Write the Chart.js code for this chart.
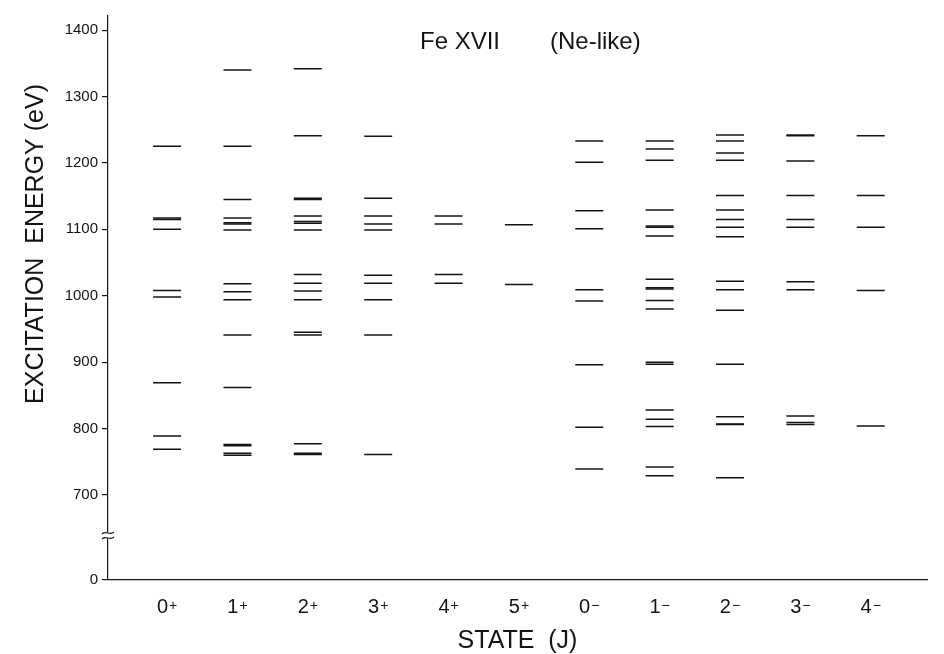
<!DOCTYPE html>
<html>
<head>
<meta charset="utf-8">
<script src="https://cdn.jsdelivr.net/npm/chart.js@4/dist/chart.umd.min.js"></script>
<style>
  html, body { margin: 0; padding: 0; background: #fff; }
  #wrap { width: 944px; height: 654px; }
</style>
</head>
<body>
<div id="wrap"><canvas id="levels"></canvas></div>
<script>
// J value and parity of each column
const states = ['0', '1', '2', '3', '4', '5', '0', '1', '2', '3', '4'];
const parity = ['+', '+', '+', '+', '+', '+', '\u2212', '\u2212', '\u2212', '\u2212', '\u2212'];

// level energies (eV), one list per column
const levels0p = [1225, 1117, 1115, 1100, 1008, 998, 869, 789, 769];
const levels1p = [1340, 1225, 1145, 1117, 1110, 1108, 1099, 1018, 1006, 994, 941, 862, 776, 774, 763, 760];
const levels2p = [1342, 1241, 1147, 1145, 1120, 1112, 1109, 1099, 1032, 1019, 1007, 994, 945, 941, 777, 763, 761];
const levels3p = [1240, 1147, 1120, 1108, 1099, 1031, 1019, 994, 941, 761];
const levels4p = [1120, 1108, 1032, 1019];
const levels5p = [1107, 1017];
const levels0m = [1233, 1201, 1128, 1101, 1009, 992, 896, 802, 739];
const levels1m = [1233, 1221, 1204, 1129, 1105, 1103, 1090, 1025, 1012, 1010, 993, 980, 900, 897, 828, 814, 803, 742, 729];
const levels2m = [1242, 1233, 1215, 1204, 1151, 1129, 1115, 1103, 1089, 1022, 1009, 978, 897, 818, 807, 806, 726];
const levels3m = [1242, 1241, 1203, 1151, 1115, 1103, 1021, 1009, 819, 809, 806];
const levels4m = [1241, 1151, 1103, 1008, 804];

const allLevels = [levels0p, levels1p, levels2p, levels3p, levels4p, levels5p,
                   levels0m, levels1m, levels2m, levels3m, levels4m];

// y ticks; 0 sits below the axis break
const yTickValues = [0, 700, 800, 900, 1000, 1100, 1200, 1300, 1400];
const zeroAt = 572;   // scale position used for the "0" tick under the break
const breakAt = 639;  // where the break mark goes

const ink = '#141414';
const font = '"Liberation Sans", Arial, Helvetica, sans-serif';

const datasets = allLevels.map((vals, i) => ({
  label: states[i] + parity[i],
  data: vals.map(v => ({ x: i, y: v })),
  pointStyle: 'line',
  pointRadius: 14,
  pointHoverRadius: 14,
  borderWidth: 1.5,
  borderColor: ink,
  backgroundColor: ink
}));

const decorations = {
  id: 'decorations',
  afterDraw(chart) {
    const ctx = chart.ctx;
    const area = chart.chartArea;
    const xs = chart.scales.x;
    const ys = chart.scales.y;
    ctx.save();
    ctx.fillStyle = ink;
    ctx.strokeStyle = ink;

    // axis break mark
    const by = ys.getPixelForValue(breakAt);
    const bx = area.left;
    ctx.fillStyle = '#fff';
    ctx.fillRect(bx - 3, by - 3, 6, 6);
    ctx.lineWidth = 1.1;
    [-2.5, 2.5].forEach(off => {
      ctx.beginPath();
      ctx.moveTo(bx - 6, by + off + 1);
      ctx.bezierCurveTo(bx - 2, by + off - 3, bx + 2, by + off + 3, bx + 6, by + off - 1);
      ctx.stroke();
    });
    ctx.fillStyle = ink;

    // column labels: J with small parity sign
    ctx.textBaseline = 'alphabetic';
    const base = area.bottom + 33;
    states.forEach((s, i) => {
      const cx = xs.getPixelForValue(i);
      ctx.font = '20px ' + font;
      const w1 = ctx.measureText(s).width;
      ctx.font = '14px ' + font;
      const w2 = ctx.measureText(parity[i]).width;
      const x0 = cx - (w1 + w2 + 1) / 2;
      ctx.font = '20px ' + font;
      ctx.textAlign = 'left';
      ctx.fillText(s, x0, base);
      ctx.font = '14px ' + font;
      ctx.fillText(parity[i], x0 + w1 + 1, base - 3);
    });

    // axis titles
    ctx.textAlign = 'center';
    ctx.textBaseline = 'middle';
    ctx.font = '25px ' + font;
    ctx.fillText('STATE  (J)', (area.left + area.right) / 2, 641);

    ctx.save();
    ctx.translate(36, 244);
    ctx.rotate(-Math.PI / 2);
    ctx.fillText('EXCITATION  ENERGY (eV)', 0, 0);
    ctx.restore();

    // figure title
    ctx.textAlign = 'left';
    ctx.font = '24px ' + font;
    ctx.fillText('Fe XVII', 420, 42);
    ctx.fillText('(Ne-like)', 550, 42);
    ctx.restore();
  }
};

new Chart(document.getElementById('levels').getContext('2d'), {
  type: 'scatter',
  data: { datasets },
  options: {
    responsive: true,
    maintainAspectRatio: false,
    animation: false,
    layout: { padding: { top: 10, right: 17, left: 0, bottom: 0 } },
    plugins: {
      legend: { display: false },
      tooltip: { enabled: false }
    },
    scales: {
      x: {
        type: 'linear',
        min: -0.84,
        max: 10.8,
        grid: { display: false },
        border: { display: true, color: ink, width: 1.2 },
        ticks: { display: false },
        afterFit: s => { s.height = 74; }
      },
      y: {
        type: 'linear',
        min: zeroAt,
        max: 1422,
        afterBuildTicks: s => {
          s.ticks = yTickValues.map(v => ({ value: v === 0 ? zeroAt : v }));
        },
        ticks: {
          color: ink,
          font: { family: font, size: 15 },
          padding: 4,
          callback: v => (v === zeroAt ? '0' : String(v))
        },
        grid: { drawOnChartArea: false, drawTicks: true, tickLength: 6, color: ink, lineWidth: 1.2 },
        border: { display: true, color: ink, width: 1.2 },
        afterFit: s => { s.width = 108; }
      }
    }
  },
  plugins: [decorations]
});
</script>
</body>
</html>
